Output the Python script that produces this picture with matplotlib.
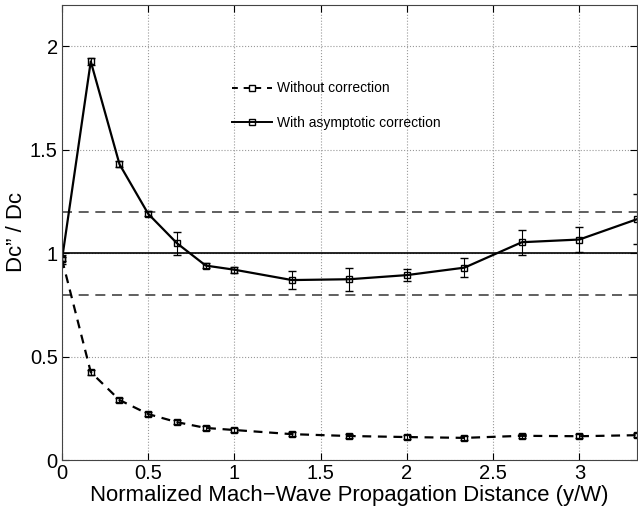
import numpy as np
import matplotlib
matplotlib.use('Agg')
import matplotlib.pyplot as plt
from matplotlib.lines import Line2D

plt.rcParams['font.family'] = ['Liberation Sans', 'DejaVu Sans']

# distance y/W
x = [0, 1/6, 1/3, 1/2, 2/3, 5/6, 1, 4/3, 5/3, 2, 7/3, 8/3, 3, 10/3]

# Dc''/Dc without correction
without_corr = [0.97, 0.425, 0.29, 0.222, 0.183, 0.155, 0.145, 0.125, 0.116, 0.111, 0.107, 0.117, 0.115, 0.12]
without_err = [0.01, 0.012, 0.01, 0.01, 0.01, 0.01, 0.01, 0.01, 0.01, 0.01, 0.01, 0.01, 0.01, 0.01]

# Dc''/Dc with asymptotic correction
with_corr = [0.97, 1.927, 1.43, 1.19, 1.048, 0.94, 0.92, 0.87, 0.874, 0.894, 0.93, 1.053, 1.066, 1.164]
with_err = [0.02, 0.015, 0.015, 0.012, 0.055, 0.012, 0.015, 0.045, 0.055, 0.03, 0.045, 0.06, 0.06, 0.12]

fig = plt.figure(figsize=(6.38, 5.13), dpi=100)
ax = fig.add_axes([0.0972, 0.1033, 0.901, 0.887])

ax.axhline(1.0, color='black', lw=1.2)
ax.axhline(1.2, color='#444444', lw=1.2, ls=(0, (6, 4)))
ax.axhline(0.8, color='#444444', lw=1.2, ls=(0, (6, 4)))

dash = (0, (4, 3))
ax.errorbar(x, without_corr, yerr=without_err, color='black', lw=1.6, ls=dash,
            marker='s', ms=5, mfc='none', mec='black', mew=1.0,
            ecolor='black', elinewidth=0.8, capsize=3)
ax.errorbar(x, with_corr, yerr=with_err, color='black', lw=1.6, ls='-',
            marker='s', ms=5, mfc='none', mec='black', mew=1.0,
            ecolor='black', elinewidth=0.8, capsize=3)

ax.set_xlim(0, 10 / 3.0)
ax.set_ylim(0, 2.2)
ax.set_xticks([0, 0.5, 1, 1.5, 2, 2.5, 3])
ax.set_xticklabels(['0', '0.5', '1', '1.5', '2', '2.5', '3'])
ax.set_yticks([0, 0.5, 1, 1.5, 2])
ax.set_yticklabels(['0', '0.5', '1', '1.5', '2'])
ax.grid(True, ls=':', color='#999999', lw=0.8)
ax.tick_params(direction='in', top=True, right=True, labelsize=14.5, length=5, pad=3)
for s in ax.spines.values():
    s.set_color('#444444')

ax.set_xlabel('Normalized Mach\u2212Wave Propagation Distance (y/W)', fontsize=15.9, labelpad=1)
ax.set_ylabel('Dc\u201d / Dc', fontsize=15.9, labelpad=2)

handles = [
    Line2D([], [], color='black', lw=1.4, ls=(0, (3, 3)), marker='s', ms=5, mfc='none', mew=1.0),
    Line2D([], [], color='black', lw=1.4, ls='-', marker='s', ms=5, mfc='none', mew=1.0),
]
ax.legend(handles, ['Without correction', 'With asymptotic correction'],
          loc='upper left', bbox_to_anchor=(0.296, 0.832), frameon=False, fontsize=10,
          handlelength=2.9, labelspacing=1.5, handletextpad=0.3, borderpad=0,
          borderaxespad=0)

fig.savefig('out.png', dpi=100)
